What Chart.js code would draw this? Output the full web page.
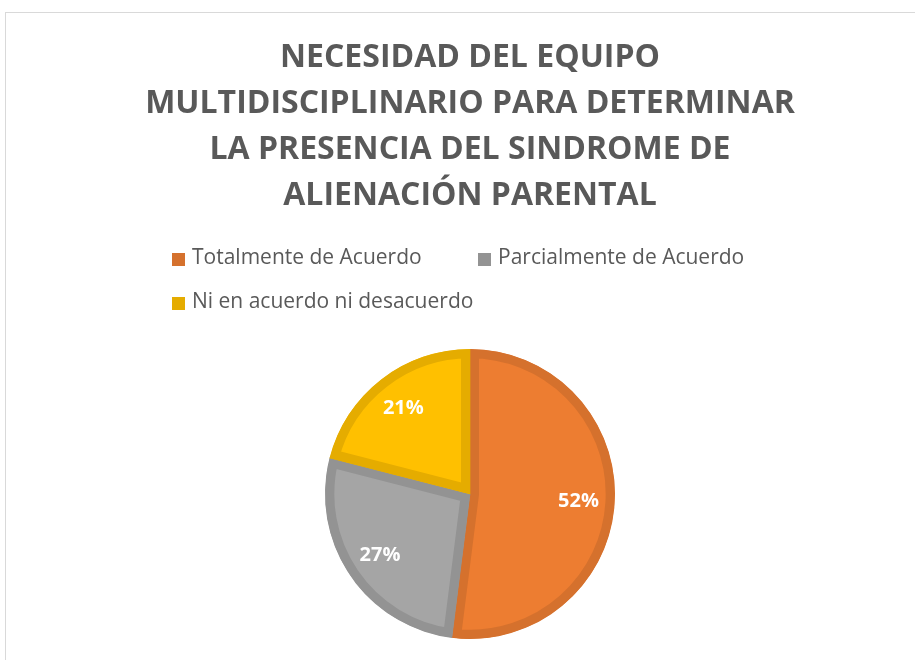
<!DOCTYPE html>
<html>
<head>
<meta charset="utf-8">
<script src="https://cdn.jsdelivr.net/npm/chart.js@4.4.1/dist/chart.umd.min.js"></script>
<style>
  html, body { margin: 0; padding: 0; background: #fff; }
  #wrap { position: relative; width: 915px; height: 660px; overflow: hidden; }
  #frame { position: absolute; left: 5px; top: 12px; width: 1000px; height: 800px; border: 1px solid #d9d9d9; box-sizing: border-box; }
  #myChart { position: absolute; left: 0; top: 0; }
</style>
</head>
<body>
<div id="wrap">
  <div id="frame"></div>
  <canvas id="myChart" width="915" height="660"></canvas>
</div>
<script>
const titleLines = [
  "NECESIDAD DEL EQUIPO",
  "MULTIDISCIPLINARIO PARA DETERMINAR",
  "LA PRESENCIA DEL SINDROME DE",
  "ALIENACIÓN PARENTAL"
];
const categories = ["Totalmente de Acuerdo", "Parcialmente de Acuerdo", "Ni en acuerdo ni desacuerdo"];
const percentages = [52, 27, 21];

const fillColors = ["#ED7D31", "#A5A5A5", "#FFC000"];
const borderColors = ["#D5712D", "#939393", "#E5AC00"];
const textColor = "#595959";

// legend drawn by hand so the items sit in Excel's two fixed columns
const legendSpots = [[172, 258], [478, 258], [172, 302]];

const sideLegend = {
  id: "sideLegend",
  afterDraw(chart) {
    const ctx = chart.ctx;
    ctx.save();
    ctx.font = "21px 'Open Sans'";
    ctx.textBaseline = "middle";
    ctx.textAlign = "left";
    chart.data.labels.forEach((label, i) => {
      const [x, y] = legendSpots[i];
      ctx.fillStyle = borderColors[i];
      ctx.fillRect(x, y - 5, 13, 13);
      ctx.fillStyle = textColor;
      ctx.fillText(label, x + 20, y);
    });
    ctx.restore();
  }
};

const pctLabels = {
  id: "pctLabels",
  afterDatasetsDraw(chart) {
    const ctx = chart.ctx;
    const meta = chart.getDatasetMeta(0);
    ctx.save();
    ctx.font = "bold 20px 'Open Sans'";
    ctx.fillStyle = "#ffffff";
    ctx.textAlign = "center";
    ctx.textBaseline = "middle";
    meta.data.forEach((arc, i) => {
      const { x, y, startAngle, endAngle, outerRadius } = arc.getProps(["x", "y", "startAngle", "endAngle", "outerRadius"], true);
      const mid = (startAngle + endAngle) / 2;
      const r = outerRadius * 0.75;
      ctx.fillText(chart.data.datasets[0].data[i] + "%", x + Math.cos(mid) * r, y + Math.sin(mid) * r);
    });
    ctx.restore();
  }
};

const ctx = document.getElementById("myChart").getContext("2d");
const chart = new Chart(ctx, {
  type: "pie",
  data: {
    labels: categories,
    datasets: [{
      data: percentages,
      backgroundColor: fillColors,
      borderColor: borderColors,
      borderWidth: 9,
      borderAlign: "inner",
      hoverBorderWidth: 9
    }]
  },
  options: {
    responsive: false,
    animation: false,
    devicePixelRatio: 1,
    layout: { padding: { left: 25, right: 0, top: 0, bottom: 21 } },
    plugins: {
      legend: { display: false },
      tooltip: { enabled: false },
      title: {
        display: true,
        text: titleLines,
        color: textColor,
        font: { family: "'Open Sans'", size: 32, weight: "bold", lineHeight: 46 / 32 },
        padding: { top: 35, bottom: 130 }
      }
    }
  },
  plugins: [sideLegend, pctLabels]
});
</script>
</body>
</html>
